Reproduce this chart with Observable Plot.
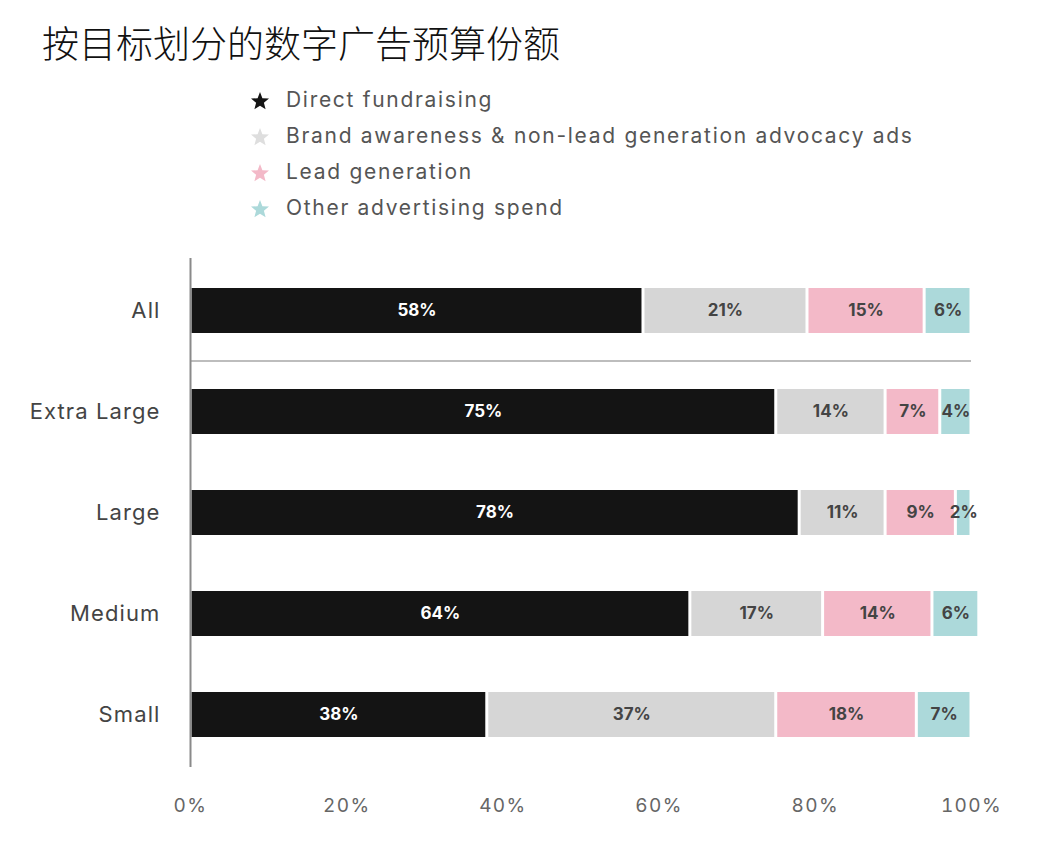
<!DOCTYPE html>
<html>
<head>
<meta charset="utf-8">
<script src="https://cdn.jsdelivr.net/npm/d3@7"></script>
<script src="https://cdn.jsdelivr.net/npm/@observablehq/plot@0.6"></script>
<style>
  html, body { margin: 0; padding: 0; background: #fff; }
  #page { position: relative; width: 1062px; height: 847px; font-family: Inter, "Noto Sans", sans-serif; }
  #title { position: absolute; left: 42px; top: 15px; font-family: "Noto Sans CJK SC", sans-serif; font-size: 37px; font-weight: 300; color: #111; white-space: nowrap; }
  #legend { position: absolute; left: 250px; top: 85px; }
  .item { height: 36px; line-height: 30px; font-size: 21px; letter-spacing: 1.7px; color: #555; white-space: nowrap; display: flex; align-items: flex-start; }
  .item svg { margin-right: 16px; margin-top: 6px; }
  #chart { position: absolute; left: 0; top: 240px; }
</style>
</head>
<body>
<div id="page">
  <div id="title">按目标划分的数字广告预算份额</div>
  <div id="legend"></div>
  <div id="chart"></div>
</div>
<script>
// Organisation size groups, top to bottom
const groups = ["All", "Extra Large", "Large", "Medium", "Small"];

// Spend categories and their colours
const series = [
  "Direct fundraising",
  "Brand awareness & non-lead generation advocacy ads",
  "Lead generation",
  "Other advertising spend"
];
const colors = ["#141414", "#d6d6d6", "#f3b9c8", "#acd9da"];
const legendColors = ["#141414", "#dedede", "#f3b9c8", "#acd9da"];
const labelColors = ["#ffffff", "#444444", "#444444", "#444444"];

// Share of budget (%) per group, one array per category
const directFundraising = [58, 75, 78, 64, 38];
const brandAwareness    = [21, 14, 11, 17, 37];
const leadGeneration    = [15,  7,  9, 14, 18];
const otherSpend        = [ 6,  4,  2,  6,  7];

// Axis ticks
const xTicks = [0, 20, 40, 60, 80, 100];

const valuesBySeries = [directFundraising, brandAwareness, leadGeneration, otherSpend];
const data = [];
series.forEach((s, i) => {
  groups.forEach((g, j) => {
    data.push({group: g, series: s, value: valuesBySeries[i][j], idx: i});
  });
});

// Legend
const starPath = "M10 1 L12.4 7.2 L19 7.6 L13.9 11.8 L15.6 18.3 L10 14.7 L4.4 18.3 L6.1 11.8 L1 7.6 L7.6 7.2 Z";
const legend = document.getElementById("legend");
series.forEach((s, i) => {
  const item = document.createElement("div");
  item.className = "item";
  item.innerHTML = `<svg width="20" height="20" viewBox="0 0 20 20"><path d="${starPath}" fill="${legendColors[i]}"/></svg><span>${s}</span>`;
  legend.appendChild(item);
});

// Chart geometry
const width = 1062, height = 600;
const marginTop = 18, marginBottom = 73, marginLeft = 190, marginRight = 91;
const step = (height - marginTop - marginBottom) / groups.length;

const stackOpts = {x: "value", y: "group", z: "series", order: null};

const chart = Plot.plot({
  width, height, marginTop, marginBottom, marginLeft, marginRight,
  style: {fontFamily: "Inter, 'Noto Sans', sans-serif", background: "#fff"},
  x: {domain: [0, 100], ticks: xTicks, tickFormat: d => d + "%", tickSize: 0, tickPadding: 31, label: null},
  y: {domain: groups, paddingInner: 0.55, paddingOuter: 0.275, tickSize: 0, tickPadding: 30, label: null},
  color: {domain: series, range: colors},
  marks: [
    Plot.barX(data, Plot.stackX({...stackOpts, fill: "series", insetRight: 1.5, insetLeft: 1.5})),
    Plot.text(data, Plot.stackX({
      ...stackOpts,
      text: d => d.value + "%",
      fill: d => labelColors[d.idx],
      fontSize: 17, fontWeight: 700, letterSpacing: 2.8
    })),
    // Separator between the overall row and the size groups
    Plot.ruleY(["Extra Large"], {dy: -step / 2, x1: 0, x2: 100, stroke: "#bdbdbd", strokeWidth: 2}),
    Plot.ruleX([0], {stroke: "#8a8a8a", strokeWidth: 2})
  ]
});

// Axis text styling
chart.querySelectorAll("[aria-label='x-axis tick label'] text").forEach(t => {
  t.setAttribute("fill", "#666"); t.setAttribute("font-size", "19"); t.setAttribute("letter-spacing", "1.4");
});
chart.querySelectorAll("[aria-label='y-axis tick label'] text").forEach(t => {
  t.setAttribute("fill", "#444"); t.setAttribute("font-size", "22"); t.setAttribute("letter-spacing", "1.1");
});

document.getElementById("chart").appendChild(chart);
</script>
</body>
</html>
